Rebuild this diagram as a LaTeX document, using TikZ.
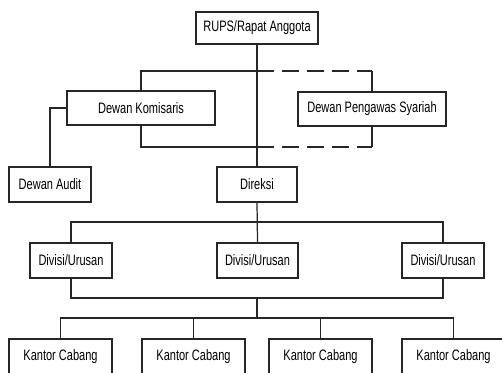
\documentclass[tikz,border=0pt]{standalone}
\usepackage{fontspec}
\setmainfont{Liberation Sans}[FakeStretch=0.73]
\usetikzlibrary{positioning}

\begin{document}
\begin{tikzpicture}[
  x=0.02cm, y=-0.02cm,
  box/.style={rectangle, draw=black!85, line width=0.7pt, fill=white,
              minimum height=0.7cm, inner sep=2pt, align=center,
              font=\fontsize{8.6}{10}\selectfont},
  line/.style={draw=black!85, line width=0.7pt},
  dline/.style={draw=black!85, line width=1.1pt, dash pattern=on 0.34cm off 0.16cm}
]
\useasboundingbox (0,0) rectangle (502,372);

\node[box, minimum width=2.44cm, minimum height=0.64cm] (rups) at (257,28) {RUPS/Rapat Anggota};

\node[box, minimum width=2.96cm, minimum height=0.68cm] (kom) at (141,108) {Dewan Komisaris};
\node[box, minimum width=2.96cm, minimum height=0.68cm] (syar) at (372,109) {Dewan Pengawas Syariah};

\node[box, minimum width=1.64cm] (audit) at (50,184.5) {Dewan Audit};
\node[box, minimum width=1.6cm] (dir) at (257,184.5) {Direksi};

\node[box, minimum width=1.64cm] (div1) at (71,260.5) {Divisi/Urusan};
\node[box, minimum width=1.62cm] (div2) at (257.5,260.5) {Divisi/Urusan};
\node[box, minimum width=1.64cm] (div3) at (443,260.5) {Divisi/Urusan};

\node[box, minimum width=2.06cm] (k1) at (60.5,356.5) {Kantor Cabang};
\node[box, minimum width=2.06cm] (k2) at (193.5,356.5) {Kantor Cabang};
\node[box, minimum width=2.06cm] (k3) at (320.5,356.5) {Kantor Cabang};
\node[box, minimum width=2.06cm] (k4) at (453.5,356.5) {Kantor Cabang};

\coordinate (jtop) at (257,71);
\coordinate (jbot) at (257,147);
\coordinate (dtop) at (257,222);
\coordinate (dbot) at (257,298);
\coordinate (ktop) at (257,318);

\draw[line] (rups.south) -- (dir.north);
\draw[line] (kom.north) |- (jtop);
\draw[line] (kom.south) |- (jbot);
\draw[line] (syar.north) -- (syar.north |- jtop);
\draw[line] (syar.south) -- (syar.south |- jbot);
\draw[dline] (jtop) -- (syar.north |- jtop);
\draw[dline] (jbot) -- (syar.south |- jbot);
\draw[line] (kom.west) -| (audit.north);

\draw[line] (dir.south) -- (div2.north);
\draw[line] (div1.north) |- (dtop) -| (div3.north);
\draw[line] (div1.south) |- (dbot) -| (div3.south);
\draw[line] (dbot) -- (ktop);
\draw[line] (k1.north) |- (ktop) -| (k4.north);
\draw[line] (k2.north) -- (k2.north |- ktop);
\draw[line] (k3.north) -- (k3.north |- ktop);

\end{tikzpicture}
\end{document}
